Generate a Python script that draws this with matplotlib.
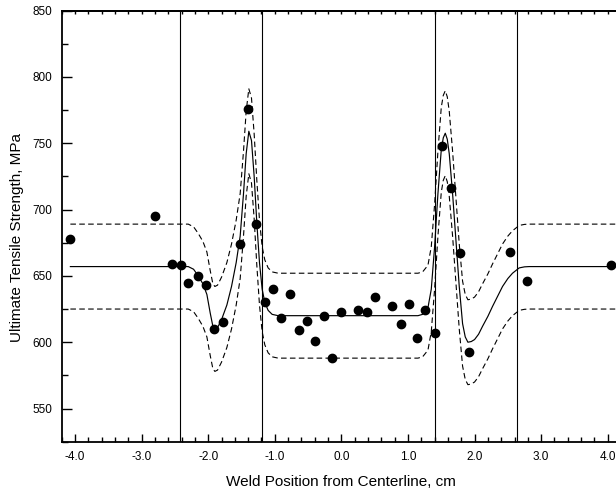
import numpy as np
import matplotlib.pyplot as plt
from matplotlib.ticker import MultipleLocator, FormatStrFormatter

plt.rcParams['font.family'] = ['Liberation Sans', 'DejaVu Sans']

# measured tensile strength across the weld
pos = np.array([-4.07, -2.80, -2.54, -2.41, -2.30, -2.16, -2.03, -1.91, -1.78, -1.53,
                -1.41, -1.28, -1.15, -1.02, -0.90, -0.77, -0.64, -0.51, -0.39, -0.26,
                -0.14, 0.00, 0.25, 0.38, 0.51, 0.76, 0.89, 1.01, 1.14, 1.26,
                1.40, 1.51, 1.65, 1.78, 1.91, 2.53, 2.79, 4.05])
uts = np.array([678, 695, 659, 658, 645, 650, 643, 610, 615, 674,
                776, 689, 630, 640, 618, 636, 609, 616, 601, 620,
                588, 623, 624, 623, 634, 627, 614, 629, 603, 624,
                607, 748, 716, 667, 593, 668, 646, 658])

# fitted profile
fit_x = np.array([-4.07, -2.40, -2.30, -2.22, -2.15, -2.08, -2.02, -1.97, -1.93, -1.90,
                  -1.86, -1.80, -1.72, -1.65, -1.58, -1.52, -1.47, -1.43, -1.39, -1.35,
                  -1.31, -1.27, -1.23, -1.19, -1.15, -1.10, -1.04, -0.95, 1.15, 1.22,
                  1.30, 1.35, 1.40, 1.45, 1.50, 1.53, 1.56, 1.59, 1.62, 1.67,
                  1.72, 1.77, 1.82, 1.86, 1.90, 1.95, 2.00, 2.06, 2.12, 2.20,
                  2.27, 2.35, 2.42, 2.50, 2.57, 2.67, 2.75, 2.82, 4.20])
fit_y = np.array([657, 657, 657, 655, 650, 644, 636, 622, 612, 610,
                  611, 617, 628, 642, 660, 680, 712, 742, 759, 752,
                  725, 690, 660, 640, 630, 624, 621, 620, 620, 621,
                  626, 640, 672, 712, 745, 754, 757.5, 753, 742, 712,
                  677, 642, 614, 604, 600, 600.5, 602, 606, 612, 619.5,
                  627, 635, 642, 648, 652, 656, 656.8, 657, 657])
band = 32  # half-width of the confidence band, MPa

# zone boundaries
zones = [-2.43, -1.19, 1.41, 2.64]

fig = plt.figure(figsize=(6.16, 4.93), dpi=100)
ax = fig.add_axes([0.1002, 0.104, 0.908, 0.8747])

for z in zones:
    ax.axvline(z, color='black', lw=0.8, zorder=1)

ax.plot(fit_x, fit_y, color='black', lw=0.85, zorder=2)
ax.plot(fit_x, fit_y + band, color='black', lw=0.8, dashes=(5, 3), zorder=2)
ax.plot(fit_x, fit_y - band, color='black', lw=0.8, dashes=(5, 3), zorder=2)
ax.plot(pos, uts, 'o', color='black', ms=6, zorder=3)

ax.set_xlim(-4.2, 4.2)
ax.set_ylim(525, 850)
ax.xaxis.set_major_locator(MultipleLocator(1.0))
ax.xaxis.set_minor_locator(MultipleLocator(0.2))
ax.xaxis.set_major_formatter(FormatStrFormatter('%.1f'))
ax.yaxis.set_major_locator(MultipleLocator(50))
ax.yaxis.set_minor_locator(MultipleLocator(25))

ax.spines['right'].set_visible(False)
for s in ['left', 'bottom', 'top']:
    ax.spines[s].set_linewidth(1.3)

ax.tick_params(axis='x', which='major', direction='in', length=6, width=1.0,
               labelsize=8.5, pad=6.5, top=False)
ax.tick_params(axis='x', which='minor', direction='in', length=3.6, width=1.0, top=False)
ax.tick_params(axis='y', which='major', direction='in', length=7, width=1.0,
               labelsize=8.5, pad=6.5, right=False)
ax.tick_params(axis='y', which='minor', direction='in', length=4.3, width=1.0, right=False)

# short marks along the top edge
top = ax.secondary_xaxis('top')
top.xaxis.set_major_locator(MultipleLocator(0.2))
top.tick_params(direction='in', length=2.5, width=1.0, labeltop=False)
top.spines['top'].set_linewidth(1.3)

ax.set_xlabel('Weld Position from Centerline, cm', fontsize=11, labelpad=9)
ax.set_ylabel('Ultimate Tensile Strength, MPa', fontsize=11)
ax.yaxis.set_label_coords(-0.067, 0.474)

fig.savefig('out.png', dpi=100)
